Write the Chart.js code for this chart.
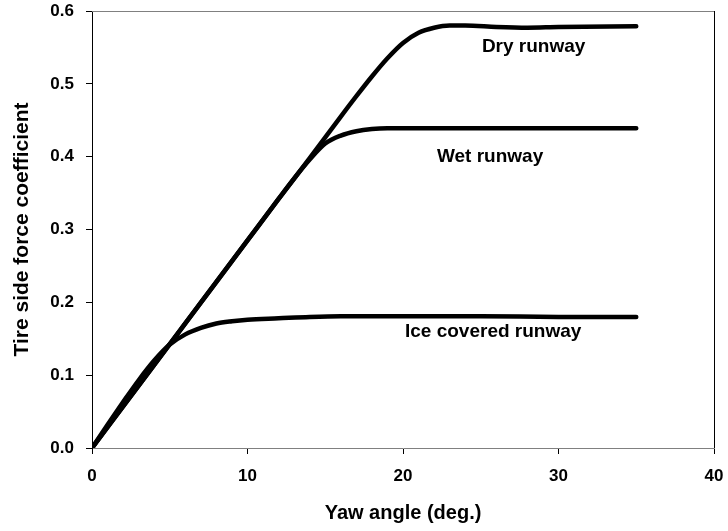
<!DOCTYPE html>
<html>
<head>
<meta charset="utf-8">
<script src="https://cdn.jsdelivr.net/npm/chart.js@4.4.1/dist/chart.umd.min.js"></script>
<style>
  html, body { margin: 0; padding: 0; background: #ffffff; }
  #wrap { width: 728px; height: 531px; position: relative; }
</style>
</head>
<body>
<div id="wrap"><canvas id="c" width="728" height="531"></canvas></div>
<script>
// ---- data ----
const dryX = [0, 2, 4, 6, 8, 10, 12, 14, 16, 17, 18, 19, 20, 21, 22, 23, 24, 26, 28, 30, 35];
const dryY = [0, 0.057, 0.114, 0.171, 0.228, 0.285, 0.342, 0.398, 0.455, 0.483, 0.51, 0.535, 0.556, 0.570, 0.577, 0.580, 0.580, 0.578, 0.577, 0.578, 0.579];

const wetX = [0, 2, 4, 6, 8, 10, 12, 13, 14, 15, 16, 17, 18, 19, 20, 25, 30, 35];
const wetY = [0, 0.057, 0.114, 0.171, 0.228, 0.285, 0.342, 0.370, 0.396, 0.418, 0.429, 0.435, 0.438, 0.439, 0.439, 0.439, 0.439, 0.439];

const iceX = [0, 1, 2, 3, 4, 5, 6, 7, 8, 9, 10, 12, 14, 16, 20, 25, 30, 35];
const iceY = [0, 0.032, 0.063, 0.093, 0.120, 0.142, 0.156, 0.165, 0.171, 0.174, 0.176, 0.178, 0.180, 0.181, 0.181, 0.181, 0.180, 0.180];

const xTicks = [0, 10, 20, 30, 40];
const yTicks = [0.0, 0.1, 0.2, 0.3, 0.4, 0.5, 0.6];

const seriesNames = ['Dry runway', 'Wet runway', 'Ice covered runway'];
const labelTexts = ['Dry runway', 'Wet runway', 'Ice covered runway'];

const xTitle = 'Yaw angle (deg.)';
const yTitle = 'Tire side force coefficient';

function pts(xs, ys) { return xs.map((x, i) => ({ x: x, y: ys[i] })); }

const FONT = "'Liberation Sans', Arial, Helvetica, sans-serif";

// draws top/right frame and curve labels, positioned in data units via the scales
const framePlugin = {
  id: 'frameAndLabels',
  afterDraw(chart, args, opts) {
    const { ctx, chartArea: a, scales } = chart;
    ctx.save();
    ctx.lineWidth = 1;
    ctx.strokeStyle = '#808080';
    ctx.beginPath();
    ctx.moveTo(a.left, a.top + 0.5);
    ctx.lineTo(a.right, a.top + 0.5);
    ctx.stroke();
    ctx.strokeStyle = '#000000';
    ctx.beginPath();
    ctx.moveTo(a.right + 0.5, a.top);
    ctx.lineTo(a.right + 0.5, a.bottom);
    ctx.stroke();
    ctx.fillStyle = '#000';
    ctx.font = 'bold 19px ' + FONT;
    ctx.textAlign = 'center';
    ctx.textBaseline = 'middle';
    opts.labels.forEach((l, i) => {
      const px = scales.x.getPixelForValue(l.x);
      const py = scales.y.getPixelForValue(l.y);
      ctx.fillText(labelTexts[i], px, py);
    });
    ctx.restore();
  }
};

const lineStyle = {
  showLine: true,
  borderColor: '#000000',
  backgroundColor: '#000000',
  borderWidth: 4.5,
  pointRadius: 0,
  pointHoverRadius: 0,
  cubicInterpolationMode: 'monotone',
  borderCapStyle: 'round',
  borderJoinStyle: 'round',
  fill: false
};

function noOverflow(s) {
  s.paddingTop = 0; s.paddingBottom = 0; s.paddingLeft = 0; s.paddingRight = 0;
}

new Chart(document.getElementById('c'), {
  type: 'scatter',
  data: {
    datasets: [
      Object.assign({ label: seriesNames[0], data: pts(dryX, dryY) }, lineStyle),
      Object.assign({ label: seriesNames[1], data: pts(wetX, wetY) }, lineStyle),
      Object.assign({ label: seriesNames[2], data: pts(iceX, iceY) }, lineStyle)
    ]
  },
  options: {
    responsive: false,
    animation: false,
    events: [],
    layout: { padding: { left: 0, right: 14, top: 11, bottom: 0 } },
    plugins: {
      legend: { display: false },
      tooltip: { enabled: false },
      frameAndLabels: {
        labels: [
          { x: 28.4, y: 0.551 },
          { x: 25.6, y: 0.400 },
          { x: 25.8, y: 0.159 }
        ]
      }
    },
    scales: {
      x: {
        type: 'linear',
        min: 0, max: 40,
        afterBuildTicks: (s) => { s.ticks = xTicks.map(v => ({ value: v })); },
        afterFit: (s) => { s.height = 83; noOverflow(s); },
        border: { color: '#808080', width: 1 },
        grid: { drawOnChartArea: false, drawTicks: true, tickLength: 6, color: '#000000' },
        ticks: {
          color: '#000',
          padding: 12,
          maxRotation: 0,
          font: { family: FONT, size: 17, weight: 'bold' },
          callback: (v) => String(v)
        },
        title: {
          display: true,
          text: xTitle,
          color: '#000',
          font: { family: FONT, size: 20, weight: 'bold' },
          padding: { top: 0, bottom: 6 }
        }
      },
      y: {
        type: 'linear',
        min: 0, max: 0.6,
        afterBuildTicks: (s) => { s.ticks = yTicks.map(v => ({ value: v })); },
        afterFit: (s) => { s.width = 92; noOverflow(s); },
        border: { color: '#000000', width: 1 },
        grid: { drawOnChartArea: false, drawTicks: true, tickLength: 6, color: '#000000' },
        ticks: {
          color: '#000',
          padding: 12,
          font: { family: FONT, size: 17, weight: 'bold' },
          callback: (v) => Number(v).toFixed(1)
        },
        title: {
          display: true,
          text: yTitle,
          color: '#000',
          font: { family: FONT, size: 21, weight: 'bold' },
          padding: { top: 10, bottom: 0 }
        }
      }
    }
  },
  plugins: [framePlugin]
});
</script>
</body>
</html>
